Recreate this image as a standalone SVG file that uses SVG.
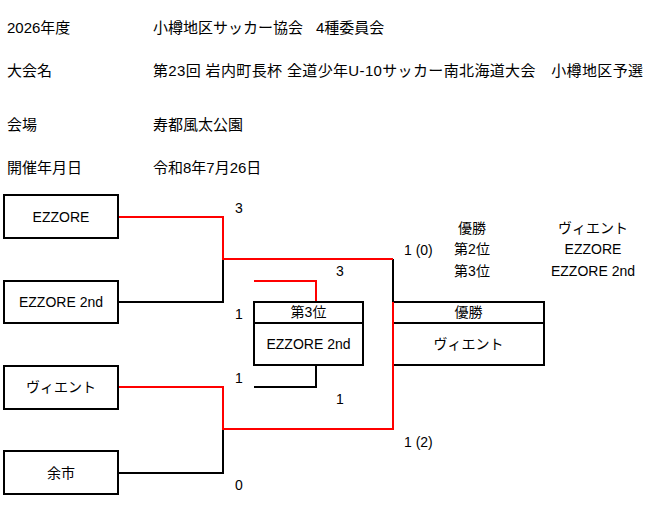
<svg xmlns="http://www.w3.org/2000/svg" width="662" height="520" viewBox="0 0 662 520">
<style>
text{font-family:"Liberation Sans","Noto Sans CJK JP",sans-serif;fill:#000;}
.h{font-size:15px;}
.t{font-size:14px;}
.c{text-anchor:middle;}
.box{fill:#fff;stroke:#000;stroke-width:2;}
.bk{fill:none;stroke:#000;stroke-width:2;}
.rd{fill:none;stroke:#ff0000;stroke-width:2;}
</style>
<rect width="662" height="520" fill="#fff"/>
<g id="header">
<text class="h" x="7" y="33">2026年度</text>
<text class="h" x="153" y="33" textLength="150" lengthAdjust="spacing">小樽地区サッカー協会</text>
<text class="h" x="316" y="33">4種委員会</text>
<text class="h" x="7" y="76">大会名</text>
<text class="h" x="153" y="76" textLength="490" lengthAdjust="spacing">第23回 岩内町長杯 全道少年U-10サッカー南北海道大会　小樽地区予選</text>
<text class="h" x="7" y="130">会場</text>
<text class="h" x="153" y="130">寿都風太公園</text>
<text class="h" x="7" y="173">開催年月日</text>
<text class="h" x="153" y="173">令和8年7月26日</text>
</g>
<g id="summary">
<text class="t c" x="472" y="233">優勝</text>
<text class="t c" x="472" y="254">第2位</text>
<text class="t c" x="472" y="276">第3位</text>
<text class="t c" x="593" y="233">ヴィエント</text>
<text class="t c" x="593" y="254">EZZORE</text>
<text class="t c" x="593" y="276">EZZORE 2nd</text>
</g>
<g id="connectors">
<polyline class="bk" points="118,302 223,302 223,259"/>
<polyline class="bk" points="118,473 223,473 223,429"/>
<polyline class="bk" points="393,259 393,302"/>
<polyline class="bk" points="254,387 316,387 316,365"/>
<polyline class="rd" points="118,217 223,217 223,259 393,259"/>
<polyline class="rd" points="118,387 223,387 223,429 393,429 393,302"/>
<polyline class="rd" points="254,281 316,281 316,302"/>
</g>
<g id="team-ezzore"><rect class="box" x="4" y="195" width="114" height="43"/><text class="t c" x="61" y="222">EZZORE</text></g>
<g id="team-ezzore2"><rect class="box" x="4" y="281" width="114" height="42"/><text class="t c" x="61" y="307">EZZORE 2nd</text></g>
<g id="team-vient"><rect class="box" x="4" y="366" width="114" height="43"/><text class="t c" x="61" y="392">ヴィエント</text></g>
<g id="team-yoichi"><rect class="box" x="4" y="451" width="114" height="43"/><text class="t c" x="61" y="478">余市</text></g>
<g id="third-place">
<rect class="box" x="254" y="302" width="109" height="63"/>
<line class="bk" x1="254" y1="323" x2="363" y2="323"/>
<text class="t c" x="308.5" y="317">第3位</text>
<text class="t c" x="308.5" y="349">EZZORE 2nd</text>
</g>
<g id="champion">
<rect class="box" x="393" y="302" width="151" height="63"/>
<line class="bk" x1="393" y1="323" x2="544" y2="323"/>
<text class="t c" x="468.5" y="317">優勝</text>
<text class="t c" x="468.5" y="349">ヴィエント</text>
<line class="rd" x1="393" y1="302" x2="393" y2="366"/>
</g>
<g id="scores">
<text class="t c" x="239" y="213">3</text>
<text class="t c" x="239" y="319">1</text>
<text class="t c" x="239" y="383">1</text>
<text class="t c" x="239" y="490">0</text>
<text class="t c" x="340" y="276">3</text>
<text class="t c" x="340" y="404">1</text>
<text class="t" x="404" y="255">1 (0)</text>
<text class="t" x="404" y="447">1 (2)</text>
</g>
</svg>
